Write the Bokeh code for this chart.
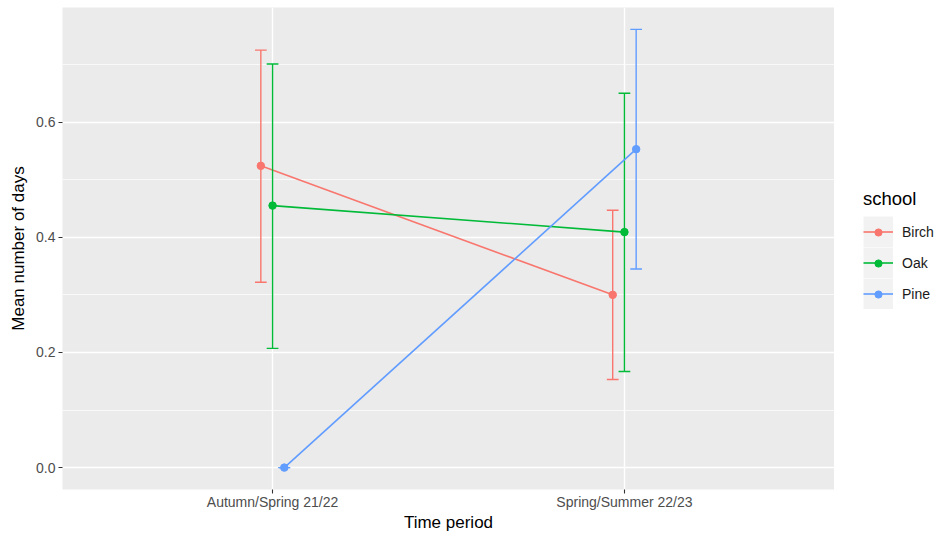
from bokeh.plotting import figure
from bokeh.layouts import row
from bokeh.models import (ColumnDataSource, Range1d, FixedTicker, Legend, LegendItem,
                          PrintfTickFormatter)
from bokeh.embed import file_html
from bokeh.resources import INLINE

# ---- data ----
periods = ["Autumn/Spring 21/22", "Spring/Summer 22/23"]
schools = ["Birch", "Oak", "Pine"]
colors = ["#F8766D", "#00BA38", "#619CFF"]

mean_birch = [0.524, 0.300]
lower_birch = [0.322, 0.153]
upper_birch = [0.725, 0.447]

mean_oak = [0.455, 0.409]
lower_oak = [0.207, 0.167]
upper_oak = [0.701, 0.650]

mean_pine = [0.000, 0.553]
lower_pine = [0.000, 0.345]
upper_pine = [0.000, 0.761]

means = [mean_birch, mean_oak, mean_pine]
lowers = [lower_birch, lower_oak, lower_pine]
uppers = [upper_birch, upper_oak, upper_pine]

dodge = 0.1
n_groups = len(schools)
cap_half = dodge / n_groups / 2

p = figure(width=834, height=535, output_backend="svg", toolbar_location=None,
           x_range=Range1d(0.403, 2.597), y_range=Range1d(-0.038, 0.799),
           min_border_left=62, min_border_right=0, min_border_top=7, min_border_bottom=46)

p.background_fill_color = "#EBEBEB"
p.border_fill_color = "white"
p.outline_line_color = None

# axes
xt = FixedTicker(ticks=[1, 2])
p.xaxis.ticker = xt
p.xaxis.major_label_overrides = {i + 1: lab for i, lab in enumerate(periods)}
yt = FixedTicker(ticks=[0.0, 0.2, 0.4, 0.6], minor_ticks=[0.1, 0.3, 0.5, 0.7])
p.yaxis.ticker = yt
p.yaxis.formatter = PrintfTickFormatter(format="%.1f")

for ax in (p.xaxis[0], p.yaxis[0]):
    ax.axis_line_color = None
    ax.major_tick_line_color = "#333333"
    ax.major_tick_line_width = 1.1
    ax.major_tick_in = 0
    ax.major_tick_out = 4
    ax.minor_tick_line_color = None
    ax.major_label_text_font = "Liberation Sans"
    ax.major_label_text_font_size = "14px"
    ax.major_label_text_color = "#4D4D4D"
    ax.axis_label_text_font = "Liberation Sans"
    ax.axis_label_text_font_size = "17px"
    ax.axis_label_text_font_style = "normal"
    ax.axis_label_text_color = "black"

p.xaxis.axis_label = "Time period"
p.yaxis.axis_label = "Mean number of days"
p.xaxis.major_label_standoff = 0
p.xaxis.axis_label_standoff = 0
p.yaxis.major_label_standoff = 3
p.yaxis.axis_label_standoff = 5

# grid
p.xgrid.ticker = xt
p.xgrid.grid_line_color = "white"
p.xgrid.grid_line_width = 1.4
p.ygrid.ticker = yt
p.ygrid.grid_line_color = "white"
p.ygrid.grid_line_width = 1.4
p.ygrid.minor_grid_line_color = "white"
p.ygrid.minor_grid_line_width = 0.7

sources = []
for gi, (name, col) in enumerate(zip(schools, colors)):
    off = (gi - (n_groups - 1) / 2) * dodge / n_groups
    xs = [i + 1 + off for i in range(len(periods))]
    src = ColumnDataSource(dict(
        x=xs, y=means[gi], lo=lowers[gi], hi=uppers[gi],
        xl=[x - cap_half for x in xs], xr=[x + cap_half for x in xs]))
    sources.append(src)
    p.segment(x0="x", y0="lo", x1="x", y1="hi", source=src, line_color=col, line_width=1.4)
    p.segment(x0="xl", y0="lo", x1="xr", y1="lo", source=src, line_color=col, line_width=1.4)
    p.segment(x0="xl", y0="hi", x1="xr", y1="hi", source=src, line_color=col, line_width=1.4)
    p.line(x="x", y="y", source=src, line_color=col, line_width=1.6)
    p.scatter(x="x", y="y", source=src, size=7.5, fill_color=col, line_color=col)

# ---- legend panel (separate figure on the right) ----
# proxy renderers reuse the series data but lie outside this panel's ranges,
# so only their legend glyphs are visible
LW, LH = 105, 535
lg = figure(width=LW, height=LH, output_backend="svg", toolbar_location=None,
            x_range=Range1d(100, 101), y_range=Range1d(100, 101),
            x_axis_type=None, y_axis_type=None,
            min_border_left=0, min_border_right=0, min_border_top=0, min_border_bottom=0)
lg.outline_line_color = None
lg.grid.visible = False
lg.background_fill_color = "white"
lg.border_fill_color = "white"

KEY_H = 31
bgs, lns, dts = [], [], []
for src, col in zip(sources, colors):
    bgs.append(lg.line(x="x", y="y", source=src, line_color="#F2F2F2",
                       line_width=KEY_H, line_cap="butt"))
    lns.append(lg.line(x="x", y="y", source=src, line_color=col, line_width=1.6))
    dts.append(lg.scatter(x="x", y="y", source=src, fill_color=col, line_color=col))

box_left = 29      # px from legend panel's left edge
box_bottom = 310   # px from top of page
shift = 45
legA = Legend(items=[LegendItem(label=s, renderers=[bgs[i], lns[i]])
                     for i, s in enumerate(schools)],
              location=(box_left, LH - box_bottom - shift),
              orientation="vertical", title="school",
              title_text_font="Liberation Sans", title_text_font_size="18.5px",
              title_text_font_style="normal", title_text_color="black", title_standoff=6,
              label_text_font="Liberation Sans", label_text_font_size="14px",
              label_text_color="#1A1A1A", label_standoff=9,
              glyph_width=30, glyph_height=KEY_H, label_height=KEY_H, spacing=0,
              padding=0, margin=0, border_line_color=None, background_fill_alpha=0)
legB = Legend(items=[LegendItem(label="", renderers=[dts[i]])
                     for i, s in enumerate(schools)],
              location=(box_left, LH - box_bottom + 6.5 - shift),
              orientation="vertical", label_text_font_size="1px",
              glyph_width=30, glyph_height=18, label_height=18, spacing=13,
              label_standoff=0, padding=0, margin=0,
              border_line_color=None, background_fill_alpha=0)
lg.add_layout(legA)
lg.add_layout(legB)

layout = row(p, lg)
open("out.html", "w").write(file_html(layout, INLINE))
